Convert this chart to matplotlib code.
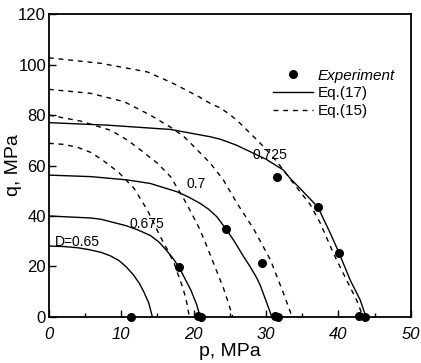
import matplotlib
matplotlib.use("Agg")
import matplotlib.pyplot as plt
from matplotlib.lines import Line2D
from matplotlib.ticker import MultipleLocator

plt.rcParams['font.family'] = ['Liberation Sans', 'DejaVu Sans']

# Eq.(17) yield curves, one per relative density D
p17_065 = [0, 2.0, 4.0, 5.5, 7.2, 8.5, 9.7, 10.7, 11.7, 12.5, 13.1, 13.8, 14.3]
q17_065 = [28.1, 27.9, 27.4, 26.7, 25.6, 24.2, 22.3, 19.8, 16.6, 13.3, 10.0, 5.5, 0]

p17_0675 = [0, 5.8, 7.2, 10.6, 12.2, 14.0, 15.2, 16.3, 17.2, 18.0, 19.6, 20.4, 20.9]
q17_0675 = [40.0, 39.2, 38.7, 36.2, 34.6, 32.3, 29.7, 26.2, 23.0, 19.6, 10.7, 5.0, 0]

p17_07 = [0, 5.8, 10.8, 14.0, 17.7, 19.3, 20.9, 22.1, 23.2, 24.5, 25.5, 26.9, 27.8, 28.7, 29.2, 30.1, 30.8]
q17_07 = [56.2, 55.6, 54.3, 52.9, 49.6, 47.5, 45.0, 42.6, 39.7, 34.7, 30.5, 23.9, 19.9, 15.5, 12.5, 5.5, 0]

p17_0725 = [0, 8.1, 16.8, 22.3, 23.7, 25.8, 27.8, 30.0, 32.4, 33.3, 34.5, 36.0, 37.2, 37.7, 38.9, 40.1, 41.6, 43.0, 43.8]
q17_0725 = [77.0, 76.0, 74.3, 71.4, 70.4, 68.2, 65.5, 62.5, 58.2, 55.0, 51.5, 47.0, 43.4, 40.2, 33.0, 25.2, 14.7, 6.7, 0]

# Eq.(15) curves
p15_a = [0, 2.0, 4.0, 5.8, 7.5, 9.6, 11.75, 13.6, 15.4, 16.3, 17.3, 18.6, 19.1, 19.4]
q15_a = [68.8, 68.4, 67.2, 65.2, 62.0, 57.4, 51.0, 42.4, 31.8, 27.0, 21.3, 10.7, 5.0, 0]

p15_b = [0, 4.4, 8.5, 10.8, 12.7, 15.0, 16.8, 18.6, 19.6, 20.8, 21.6, 22.3, 23.2, 24.1, 24.8, 25.4]
q15_b = [80.0, 77.6, 74.0, 70.2, 66.1, 60.9, 55.6, 47.0, 41.7, 35.0, 29.5, 24.5, 18.0, 11.5, 5.5, 0]

p15_c = [0, 5.8, 10.4, 14.0, 16.8, 18.6, 19.6, 22.3, 24.1, 26.0, 28.3, 30.6, 32.4, 33.6]
q15_c = [90.2, 88.6, 85.3, 80.0, 75.2, 71.6, 68.8, 60.9, 54.3, 45.0, 34.8, 22.6, 9.4, 0]

p15_d = [0, 7.2, 13.6, 17.0, 20.9, 22.3, 23.7, 25.1, 26.5, 27.8, 29.0, 30.1, 31.3, 32.4,
         33.5, 34.7, 36.1, 37.5, 39.3, 41.1, 42.5, 43.4]
q15_d = [102.7, 100.5, 97.1, 92.8, 87.0, 84.6, 82.8, 80.0, 76.5, 72.8, 69.4, 66.1, 62.2, 58.2,
         54.0, 49.6, 44.5, 37.1, 25.2, 14.7, 6.7, 0]

# measured points
p_exp = [11.3, 20.6, 21.0, 18.0, 24.5, 29.4, 31.2, 31.6, 31.5, 37.2, 40.1, 42.8, 43.7]
q_exp = [0, 0.5, 0, 19.6, 34.7, 21.5, 0.3, 0, 55.3, 43.4, 25.2, 0.3, 0]

curve_labels = ["D=0.65", "0.675", "0.7", "0.725"]
label_p = [4.0, 13.6, 20.4, 30.6]
label_q = [29.8, 36.9, 52.6, 64.0]

fig = plt.figure(figsize=(4.21, 3.63), dpi=100)
ax = fig.add_axes([0.116, 0.127, 0.86, 0.834])

solid = [(p17_065, q17_065), (p17_0675, q17_0675), (p17_07, q17_07), (p17_0725, q17_0725)]
dashed = [(p15_a, q15_a), (p15_b, q15_b), (p15_c, q15_c), (p15_d, q15_d)]

for p, q in solid:
    ax.plot(p, q, color='black', lw=1.0)
for p, q in dashed:
    ax.plot(p, q, color='black', lw=1.0, ls=(0, (3.5, 3.5)))

ax.plot(p_exp, q_exp, 'o', color='black', ms=5.5, clip_on=False, zorder=5)

for txt, x, y in zip(curve_labels, label_p, label_q):
    ax.text(x, y, txt, fontsize=10, ha='center', va='center')

ax.set_xlim(0, 50)
ax.set_ylim(0, 120)
ax.xaxis.set_major_locator(MultipleLocator(10))
ax.xaxis.set_minor_locator(MultipleLocator(5))
ax.yaxis.set_major_locator(MultipleLocator(20))
ax.tick_params(which='both', direction='in', top=False, right=False, labelsize=12)
ax.tick_params(which='major', length=5, width=1.0)
ax.tick_params(which='minor', length=3, width=1.0)
ax.tick_params(axis='x', pad=7)
ax.tick_params(axis='y', pad=2)
for lab in ax.get_xticklabels():
    lab.set_fontstyle('italic')
for s in ax.spines.values():
    s.set_linewidth(1.3)

ax.set_xlabel("p, MPa", fontsize=14, labelpad=1)
ax.set_ylabel("q, MPa", fontsize=14)
ax.yaxis.set_label_coords(-0.075, 0.5)

handles = [
    Line2D([], [], marker='o', color='black', ls='none', ms=5.5),
    Line2D([], [], color='black', lw=1.0),
    Line2D([], [], color='black', lw=1.0, ls=(0, (3.5, 3.5))),
]
leg = ax.legend(handles, ["Experiment", "Eq.(17)", "Eq.(15)"], loc='upper left',
                bbox_to_anchor=(0.62, 0.82), frameon=False, fontsize=11,
                handlelength=2.6, handletextpad=0.3, labelspacing=0.25,
                borderpad=0, borderaxespad=0)
leg.get_texts()[0].set_fontstyle('italic')

fig.savefig("out.png", dpi=100)
